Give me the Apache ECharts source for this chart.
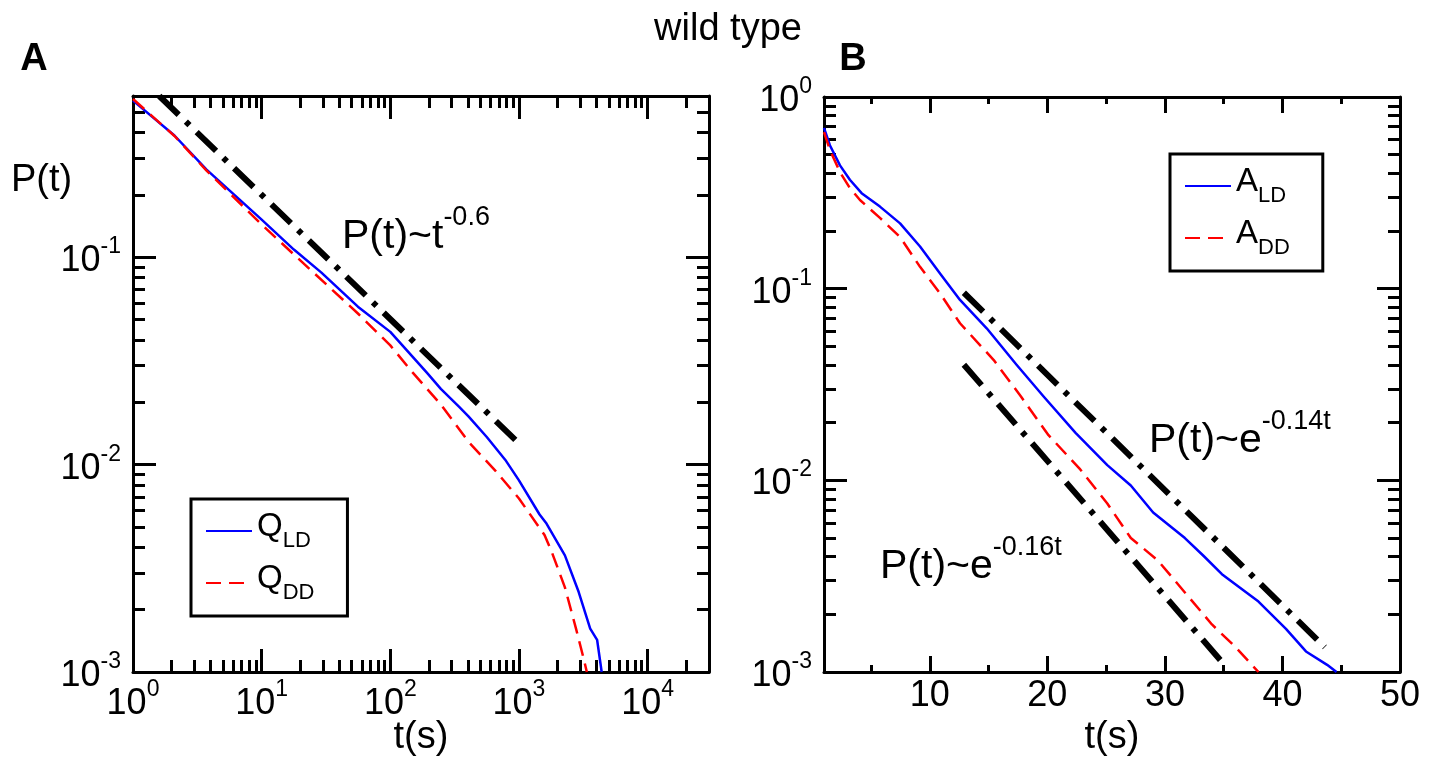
<!DOCTYPE html>
<html><head><meta charset="utf-8">
<script src="https://cdn.jsdelivr.net/npm/echarts@6/dist/echarts.min.js"></script>
<style>html,body{margin:0;padding:0;background:#fff}#c{width:1434px;height:772px}</style>
</head><body><div id="c"></div>
<script>
// ---------- data ----------
// Panel A (log-log)
const qLD_t = [1, 2.1, 3.73, 10, 17.8, 29, 56, 100, 193, 247, 343, 405, 562, 781, 1000, 1446, 1637, 2275, 2913, 3578, 4049, 4395];
const qLD_p = [0.57, 0.387, 0.265, 0.152, 0.109, 0.0846, 0.0578, 0.0437, 0.0277, 0.0232, 0.019, 0.0171, 0.0136, 0.01057, 0.0084, 0.00575, 0.0052, 0.00365, 0.00243, 0.00162, 0.00143, 0.001];
const qDD_t = [1, 2.1, 3.73, 10, 19.3, 56, 100, 150, 247, 405, 660, 1000, 1580, 1785, 2275, 2776, 3150, 3370];
const qDD_p = [0.58, 0.385, 0.262, 0.144, 0.0985, 0.0536, 0.0376, 0.0277, 0.0195, 0.0129, 0.0093, 0.00687, 0.00458, 0.00384, 0.00256, 0.00162, 0.00119, 0.001];
const powA_t = [1.6, 1050];
const powA_p = [0.6, 0.0123];
// Panel B (semi-log)
const aLD_t = [1, 1.5, 2.36, 3.2, 4.2, 5.76, 7.47, 9.17, 10.87, 12.57, 14.84, 17.38, 19.7, 22.4, 25.1, 27.1, 29.0, 31.7, 33.3, 34.85, 37.96, 40.3, 42.0, 43.8, 44.6];
const aLD_p = [0.69, 0.56, 0.44, 0.37, 0.315, 0.268, 0.219, 0.166, 0.12, 0.0873, 0.0621, 0.0401, 0.0273, 0.0177, 0.012, 0.0094, 0.0068, 0.005, 0.00403, 0.00324, 0.00233, 0.00168, 0.00128, 0.00109, 0.001];
const aDD_t = [1, 1.5, 2.36, 3.2, 4.06, 5.76, 7.47, 9.17, 10.87, 12.57, 15.44, 17.77, 20.1, 22.8, 25.1, 27.1, 29.4, 31.7, 34.0, 36.0, 37.96];
const aDD_p = [0.655, 0.53, 0.405, 0.335, 0.29, 0.234, 0.186, 0.13, 0.0946, 0.066, 0.0424, 0.0273, 0.0172, 0.0114, 0.00757, 0.005, 0.00382, 0.0026, 0.00177, 0.00135, 0.001];
const exp14_t = [12.9, 43.6];
const exp14_p = [0.0952, 0.00135];
const exp16_t = [12.9, 35.24];
const exp16_p = [0.0401, 0.00106];
// ticks
const aXMajor = [1, 10, 100, 1000, 10000];
const aXMinor = [2,3,4,5,6,7,8,9,20,30,40,50,60,70,80,90,200,300,400,500,600,700,800,900,2000,3000,4000,5000,6000,7000,8000,9000,20000];
const logYMajor = [0.001, 0.01, 0.1, 1];
const logYMinor = [0.002,0.003,0.004,0.005,0.006,0.007,0.008,0.009,0.02,0.03,0.04,0.05,0.06,0.07,0.08,0.09,0.2,0.3,0.4,0.5,0.6,0.7,0.8,0.9];
const bXMajor = [10, 20, 30, 40, 50];
const bXMinor = [5, 15, 25, 35, 45];
const names = {qLD: 'Q_LD', qDD: 'Q_DD', aLD: 'A_LD', aDD: 'A_DD'};

// ---------- helpers ----------
const FONT = '"Liberation Sans", Arial, sans-serif';
const zip = (a, b) => a.map((v, i) => [v, b[i]]);
const supRich = {
  b: {fontFamily: FONT, fontSize: 36, color: '#000', lineHeight: 44, verticalAlign: 'bottom'},
  s: {fontFamily: FONT, fontSize: 23, color: '#000', verticalAlign: 'top'}
};
const pow10 = v => '{b|10}{s|' + Math.round(Math.log10(v)) + '}';
const BLK = {color: '#000', width: 3};

function xAxes(grid, type, min, max, majors, minors, majLen, minLen, labelFmt) {
  const c = {gridIndex: grid, type, min, max, splitLine: {show: false}};
  if (type === 'log') c.logBase = 10;
  const tick = (vals, len) => ({show: true, inside: true, length: len, lineStyle: BLK, customValues: vals});
  return [
    Object.assign({}, c, {position: 'bottom', axisLine: {show: true, onZero: false, lineStyle: BLK}, axisTick: tick(majors, majLen),
      axisLabel: {show: true, customValues: majors, margin: 6, formatter: labelFmt, fontFamily: FONT, fontSize: 36, color: '#000', rich: supRich}}),
    Object.assign({}, c, {position: 'bottom', axisLine: {show: false}, axisTick: tick(minors, minLen), axisLabel: {show: false}}),
    Object.assign({}, c, {position: 'top', axisLine: {show: true, onZero: false, lineStyle: BLK}, axisTick: tick(majors, majLen), axisLabel: {show: false}}),
    Object.assign({}, c, {position: 'top', axisLine: {show: false}, axisTick: tick(minors, minLen), axisLabel: {show: false}})
  ];
}
function yAxes(grid, min, max, majors, minors, majLen, minLen) {
  const c = {gridIndex: grid, type: 'log', logBase: 10, min, max, splitLine: {show: false}};
  const tick = (vals, len) => ({show: true, inside: true, length: len, lineStyle: BLK, customValues: vals});
  return [
    Object.assign({}, c, {position: 'left', axisLine: {show: true, onZero: false, lineStyle: BLK}, axisTick: tick(majors, majLen),
      axisLabel: {show: true, customValues: majors, margin: 12, formatter: pow10, rich: supRich}}),
    Object.assign({}, c, {position: 'left', axisLine: {show: false}, axisTick: tick(minors, minLen), axisLabel: {show: false}}),
    Object.assign({}, c, {position: 'right', axisLine: {show: true, onZero: false, lineStyle: BLK}, axisTick: tick(majors, majLen), axisLabel: {show: false}}),
    Object.assign({}, c, {position: 'right', axisLine: {show: false}, axisTick: tick(minors, minLen), axisLabel: {show: false}})
  ];
}
function lineSeries(name, xi, yi, data, color, type, width) {
  return {name, type: 'line', xAxisIndex: xi, yAxisIndex: yi, data, showSymbol: false, symbol: 'none',
    lineStyle: {color, width, type, cap: 'butt', join: 'round'}, itemStyle: {color}, clip: true, silent: true, animation: false};
}
const subRich = {
  b: {fontFamily: FONT, fontSize: 33, color: '#000', verticalAlign: 'top'},
  s: {fontFamily: FONT, fontSize: 22, color: '#000', lineHeight: 42, verticalAlign: 'bottom'}
};
const legendFmt = n => { const p = n.split('_'); return '{b|' + p[0] + '}{s|' + p[1] + '}'; };
const annRich = {
  b: {fontFamily: FONT, fontSize: 41, color: '#000', lineHeight: 53, verticalAlign: 'bottom'},
  s: {fontFamily: FONT, fontSize: 27, color: '#000', verticalAlign: 'top'}
};
const legendCommon = {orient: 'vertical', padding: [11, 33, 12, 14], itemGap: 10,
  itemWidth: 46, itemHeight: 14, borderColor: '#000', borderWidth: 3, formatter: legendFmt,
  itemStyle: {color: 'rgba(0,0,0,0)', borderColor: 'rgba(0,0,0,0)', borderWidth: 0},
  textStyle: {rich: subRich}, selectedMode: false};

const chart = echarts.init(document.getElementById('c'), null, {renderer: 'canvas'});
const option = {
  animation: false,
  backgroundColor: '#fff',
  grid: [
    {left: 133, top: 96, width: 576, height: 576, containLabel: false, outerBoundsMode: 'none'},
    {left: 824, top: 97, width: 576, height: 575, containLabel: false, outerBoundsMode: 'none'}
  ],
  xAxis: [].concat(
    xAxes(0, 'log', 1, 30000, aXMajor, aXMinor, 23, 12, pow10),
    xAxes(1, 'value', 1, 50, bXMajor, bXMinor, 16, 7, v => String(v))
  ),
  yAxis: [].concat(
    yAxes(0, 0.001, 0.6, logYMajor, logYMinor, 23, 12),
    yAxes(1, 0.001, 1, logYMajor, logYMinor, 23, 12)
  ),
  legend: [
    Object.assign({}, legendCommon, {data: [names.qLD, names.qDD], left: 191, top: 499}),
    Object.assign({}, legendCommon, {data: [names.aLD, names.aDD], left: 1170, top: 154})
  ],
  series: [
    lineSeries(names.qLD, 0, 0, zip(qLD_t, qLD_p), '#0000ff', 'solid', 2.5),
    lineSeries(names.qDD, 0, 0, zip(qDD_t, qDD_p), '#ff0000', [15, 8], 2.5),
    lineSeries('powA', 0, 0, zip(powA_t, powA_p), '#000', [27, 10, 5, 10], 6),
    lineSeries(names.aLD, 4, 4, zip(aLD_t, aLD_p), '#0000ff', 'solid', 2.5),
    lineSeries(names.aDD, 4, 4, zip(aDD_t, aDD_p), '#ff0000', [15, 8], 2.5),
    lineSeries('exp14', 4, 4, zip(exp14_t, exp14_p), '#000', [27, 10, 5, 10], 6),
    lineSeries('exp16', 4, 4, zip(exp16_t, exp16_p), '#000', [27, 10, 5, 10], 6)
  ],
  graphic: [
    {type: 'text', x: 728, y: 30, style: {text: 'wild type', font: '38px ' + FONT, fill: '#000', align: 'center', verticalAlign: 'middle'}},
    {type: 'text', x: 34, y: 60, style: {text: 'A', font: 'bold 38px ' + FONT, fill: '#000', align: 'center', verticalAlign: 'middle'}},
    {type: 'text', x: 853, y: 60, style: {text: 'B', font: 'bold 38px ' + FONT, fill: '#000', align: 'center', verticalAlign: 'middle'}},
    {type: 'text', x: 11, y: 181, style: {text: 'P(t)', font: '38px ' + FONT, fill: '#000', align: 'left', verticalAlign: 'middle'}},
    {type: 'text', x: 421, y: 738, style: {text: 't(s)', font: '38px ' + FONT, fill: '#000', align: 'center', verticalAlign: 'middle'}},
    {type: 'text', x: 1112, y: 738, style: {text: 't(s)', font: '38px ' + FONT, fill: '#000', align: 'center', verticalAlign: 'middle'}},
    {type: 'text', x: 342, y: 204, style: {text: '{b|P(t)~t}{s|-0.6}', rich: annRich, align: 'left', verticalAlign: 'top'}},
    {type: 'text', x: 1149, y: 408, style: {text: '{b|P(t)~e}{s|-0.14t}', rich: annRich, align: 'left', verticalAlign: 'top'}},
    {type: 'text', x: 880, y: 534, style: {text: '{b|P(t)~e}{s|-0.16t}', rich: annRich, align: 'left', verticalAlign: 'top'}}
  ]
};
chart.setOption(option);
</script>
</body></html>
